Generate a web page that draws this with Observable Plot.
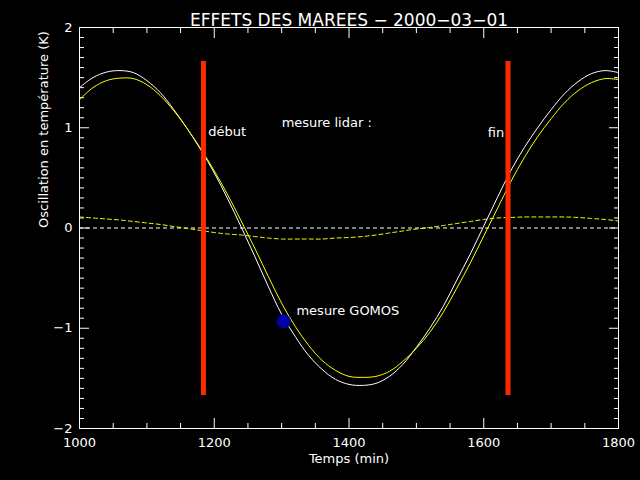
<!DOCTYPE html>
<html><head><meta charset="utf-8">
<script src="https://cdn.jsdelivr.net/npm/d3@7"></script>
<script src="https://cdn.jsdelivr.net/npm/@observablehq/plot@0.6"></script>
<style>
html,body{margin:0;padding:0;background:#000;}
</style>
</head><body><div id="chart"></div>
<script>
// ---- data ----
const times = [1000,1020,1040,1060,1080,1100,1120,1140,1160,1180,1200,1220,1240,1260,1280,1300,1320,1340,1360,1380,1400,1420,1440,1460,1480,1500,1520,1540,1560,1580,1600,1620,1640,1660,1680,1700,1720,1740,1760,1780,1800];
const whiteCurve = [1.40,1.50,1.555,1.57,1.55,1.47,1.35,1.18,0.99,0.78,0.55,0.29,0.01,-0.28,-0.58,-0.86,-1.08,-1.27,-1.41,-1.51,-1.56,-1.57,-1.55,-1.48,-1.36,-1.19,-1.00,-0.78,-0.52,-0.26,0.02,0.30,0.57,0.80,1.00,1.18,1.34,1.46,1.54,1.57,1.55];
const yellowCurve = [1.28,1.40,1.47,1.495,1.49,1.43,1.32,1.17,0.99,0.79,0.57,0.33,0.07,-0.20,-0.48,-0.75,-0.98,-1.17,-1.32,-1.42,-1.48,-1.49,-1.48,-1.43,-1.33,-1.20,-1.04,-0.84,-0.60,-0.35,-0.08,0.19,0.46,0.70,0.91,1.09,1.25,1.37,1.45,1.49,1.48];
const yellowDashed = [0.11,0.10,0.09,0.08,0.065,0.05,0.035,0.015,-0.005,-0.025,-0.045,-0.06,-0.07,-0.085,-0.10,-0.11,-0.11,-0.11,-0.11,-0.10,-0.095,-0.085,-0.07,-0.05,-0.03,-0.01,0.005,0.025,0.045,0.065,0.085,0.10,0.105,0.11,0.11,0.11,0.11,0.105,0.095,0.085,0.07];

const lidarTimes = [1184, 1636];       // début / fin
const lidarBarRange = [-1.67, 1.66];   // vertical extent of red bars
const gomos = [{t: 1303, v: -0.93}];

const annotations = [
  {t: 1191, v: 0.955, text: "début"},
  {t: 1300, v: 1.045, text: "mesure lidar :"},
  {t: 1606, v: 0.945, text: "fin"},
  {t: 1322, v: -0.83, text: "mesure GOMOS"}
];

const xMajor = [1000,1200,1400,1600,1800];
const xMinor = [1050,1100,1150,1250,1300,1350,1450,1500,1550,1650,1700,1750];
const yMajor = [-2,-1,0,1,2];
const yMinor = d3.range(-20, 21).filter(d => d % 10 !== 0).map(d => d / 10);

const title = "EFFETS DES MAREES \u2212 2000\u221203\u221201";
const xLabel = "Temps (min)";
const yLabel = "Oscillation en température (K)";

const white = times.map((t, i) => ({t, v: whiteCurve[i]}));
const yellow = times.map((t, i) => ({t, v: yellowCurve[i]}));
const dashed = times.map((t, i) => ({t, v: yellowDashed[i]}));

const font = "DejaVu Sans";
const empty = () => "";

const chart = Plot.plot({
  width: 640,
  height: 480,
  marginLeft: 79,
  marginRight: 22,
  marginTop: 27,
  marginBottom: 52,
  style: {background: "#000", color: "#fff", fontFamily: font, fontSize: "13px"},
  x: {domain: [1000, 1800]},
  y: {domain: [-2, 2]},
  marks: [
    Plot.frame({stroke: "#fff", strokeWidth: 1}),
    // inward ticks, all four sides
    Plot.axisX({anchor: "bottom", ticks: xMajor, tickSize: 10, dy: -10, tickFormat: empty, label: null, stroke: "#fff"}),
    Plot.axisX({anchor: "bottom", ticks: xMinor, tickSize: 5, dy: -5, tickFormat: empty, label: null, stroke: "#fff"}),
    Plot.axisX({anchor: "top", ticks: xMajor, tickSize: 10, dy: 10, tickFormat: empty, label: null, stroke: "#fff"}),
    Plot.axisX({anchor: "top", ticks: xMinor, tickSize: 5, dy: 5, tickFormat: empty, label: null, stroke: "#fff"}),
    Plot.axisY({anchor: "left", ticks: yMajor, tickSize: 10, dx: 10, tickFormat: empty, label: null, stroke: "#fff"}),
    Plot.axisY({anchor: "left", ticks: yMinor, tickSize: 5, dx: 5, tickFormat: empty, label: null, stroke: "#fff"}),
    Plot.axisY({anchor: "right", ticks: yMajor, tickSize: 10, dx: -10, tickFormat: empty, label: null, stroke: "#fff"}),
    Plot.axisY({anchor: "right", ticks: yMinor, tickSize: 5, dx: -5, tickFormat: empty, label: null, stroke: "#fff"}),
    // tick labels
    Plot.axisX({anchor: "bottom", ticks: xMajor, tickSize: 0, tickPadding: 9, tickFormat: d => String(d), label: null, fill: "#fff", fontSize: 13}),
    Plot.axisY({anchor: "left", ticks: yMajor, tickSize: 0, tickPadding: 7, tickFormat: d => d < 0 ? "\u2212" + Math.abs(d) : String(d), label: null, fill: "#fff", fontSize: 13}),
    // zero line
    Plot.ruleY([0], {stroke: "#fff", strokeWidth: 1, strokeDasharray: "4,3"}),
    // curves
    Plot.line(dashed, {x: "t", y: "v", stroke: "#ffff00", strokeWidth: 1, strokeDasharray: "4,3", curve: "catmull-rom"}),
    Plot.line(white, {x: "t", y: "v", stroke: "#fff", strokeWidth: 1, curve: "catmull-rom"}),
    Plot.line(yellow, {x: "t", y: "v", stroke: "#ffff00", strokeWidth: 1, curve: "catmull-rom"}),
    // lidar bars
    Plot.ruleX(lidarTimes, {y1: lidarBarRange[0], y2: lidarBarRange[1], stroke: "#ff2a00", strokeWidth: 5}),
    // GOMOS point
    Plot.dot(gomos, {x: "t", y: "v", r: 7, fill: "#0000a8", stroke: "none"}),
    // annotations
    Plot.text(annotations, {x: "t", y: "v", text: "text", textAnchor: "start", fill: "#fff", fontSize: 13, fontFamily: font}),
    // titles
    Plot.text([title], {frameAnchor: "top", dy: -14, fill: "#fff", fontSize: 17, fontFamily: font}),
    Plot.text([xLabel], {frameAnchor: "bottom", dy: 34, fill: "#fff", fontSize: 13, fontFamily: font}),
    Plot.text([yLabel], {frameAnchor: "left", dx: -36, rotate: -90, fill: "#fff", fontSize: 13, fontFamily: font})
  ]
});
document.getElementById("chart").appendChild(chart);
</script>
</body></html>
